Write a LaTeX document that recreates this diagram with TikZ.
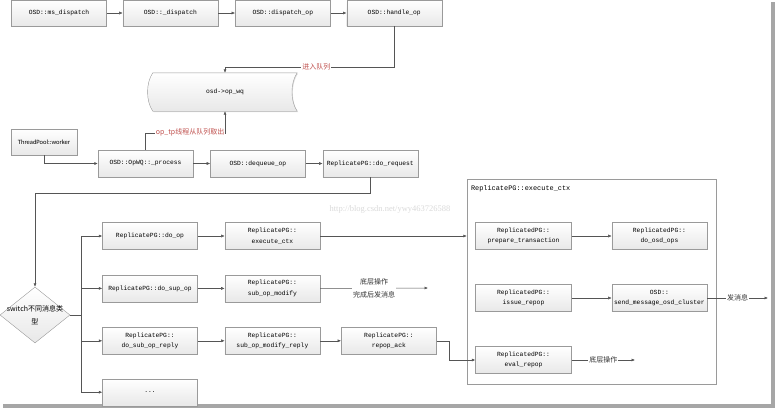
\documentclass[tikz,border=0pt]{standalone}
\usepackage{fontspec}
\setmonofont{Liberation Mono}
\newfontfamily\cjk{Noto Sans CJK SC}
\newfontfamily\wkfont{Carlito}
\newfontfamily\wmfont{Liberation Serif}
\usetikzlibrary{shapes.geometric,shadows,arrows.meta,positioning,calc}
\definecolor{linegray}{HTML}{555555}
\definecolor{boxgray}{HTML}{9A9A9A}
\definecolor{lblred}{HTML}{C0504D}
\newcommand\boxfont{\ttfamily\fontsize{6.3}{10.5}\selectfont}
\newcommand\lblfont{\cjk\fontsize{7}{12.5}\selectfont}
\tikzset{
    funcbox/.style={
        rectangle,                 % caja simple
        draw=boxgray,              % borde gris fino
        top color=white,           % degradado claro de arriba a abajo
        bottom color=gray!18,
        minimum width=95pt,        % ancho comun de todas las cajas
        minimum height=27pt,
        inner sep=1pt,
        align=center,
        font=\boxfont,
        drop shadow={shadow xshift=0.8pt,shadow yshift=-0.8pt,opacity=0.25}
    },
    wire/.style={
        draw=linegray,             % lineas de conexion
        line width=0.5pt
    },
    flow/.style={
        wire,
        -{Latex[length=3.5pt,width=3pt]}
    },
    redlabel/.style={
        fill=white, text=lblred, font=\lblfont, inner sep=1pt
    },
    notelabel/.style={
        fill=white, text=black!80, font=\lblfont, inner sep=1pt, align=center
    }
}
\begin{document}
\begin{tikzpicture}[x=1pt, y=-1pt]
\useasboundingbox (0,0) rectangle (775,410);
% sombra del marco
\fill[gray!70] (771,2) rectangle (774.5,407.5);
\fill[gray!70] (3,404) rectangle (774.5,407.5);

% fila superior
\node[funcbox, minimum height=26pt] (msd) at (59,13) {OSD::ms\_dispatch};
\node[funcbox, minimum height=26pt, right=16pt of msd] (dsp) {OSD::\_dispatch};
\node[funcbox, minimum height=26pt, right=17pt of dsp] (dop) {OSD::dispatch\_op};
\node[funcbox, minimum height=26pt, right=16pt of dop] (hop) {OSD::handle\_op};
\draw[flow] (msd) -- (dsp);
\draw[flow] (dsp) -- (dop);
\draw[flow] (dop) -- (hop);

% cola
\node[minimum width=144pt, minimum height=38pt, inner sep=0pt, font=\boxfont] (wq) at (225,92) {};
\path[draw=boxgray, top color=white, bottom color=gray!18,
      drop shadow={shadow xshift=0.8pt,shadow yshift=-0.8pt,opacity=0.25}]
  (wq.north west) .. controls +(-7pt,-10pt) and +(-7pt,10pt) .. (wq.south west)
  -- (wq.south east) .. controls +(-7pt,10pt) and +(-7pt,-10pt) .. (wq.north east) -- cycle;
\node[font=\boxfont] at (wq.center) {osd->op\_wq};
\draw[flow] (hop.south) -- ++(0,41) -| node[redlabel, pos=0.23] {进入队列} (wq.north);

% hilo de trabajo
\node[funcbox, font=\wkfont\fontsize{6.5}{8}\selectfont, minimum width=66pt, minimum height=26pt] (wrk) at (44,142) {ThreadPool::worker};
\node[funcbox] (proc) at (145.5,163.5) {OSD::OpWQ::\_process};
\node[funcbox, right=17pt of proc] (deq) {OSD::dequeue\_op};
\node[funcbox, right=17pt of deq] (req) {ReplicatePG::do\_request};
\draw[flow] (wrk.south) |- (proc.west);
\draw[flow] (proc) -- (deq);
\draw[flow] (deq) -- (req);
\draw[flow] (proc.north) -- ++(0,-17) -| node[redlabel, pos=0.28] {op\_tp线程从队列取出} (wq.south);

\node[font=\wmfont\fontsize{8.5}{10}\selectfont, text=gray!30] (wm) at (390,209) {http://blog.csdn.net/ywy463726588};

% switch
\node[diamond, draw=boxgray, top color=white, bottom color=gray!18, minimum width=70pt, minimum height=56pt, inner sep=0pt,
      label={[font=\lblfont, align=center]center:{switch不同消息类\\型}}] (sw) at (35,315) {};
\draw[flow] (req.south) -- ++(0,16) -| (sw.north);

% ramas
\node[funcbox] (op) at (150,236) {ReplicatePG::do\_op};
\node[funcbox, below=25pt of op] (sup) {ReplicatePG::do\_sup\_op};
\node[funcbox, below=25pt of sup] (rpl) {ReplicatePG::\\do\_sub\_op\_reply};
\node[funcbox, below=24pt of rpl] (etc) {...};
\node[funcbox, right=27pt of op] (ctx) {ReplicatePG::\\execute\_ctx};
\node[funcbox, right=27pt of sup] (mod) {ReplicatePG::\\sub\_op\_modify};
\node[funcbox, right=27pt of rpl] (mrp) {ReplicatePG::\\sub\_op\_modify\_reply};
\node[funcbox, right=21pt of mrp] (ack) {ReplicatePG::\\repop\_ack};

\coordinate (tk) at (81,315);
\draw[wire] (sw.east) -- (tk);
\draw[wire] (tk |- op.west) -- (tk |- etc.west);
\foreach \n in {op,sup,rpl,etc}
  \draw[flow] (tk |- \n.west) -- (\n.west);
\draw[flow] (op) -- (ctx);
\draw[flow] (sup) -- (mod);
\draw[flow] (rpl) -- (mrp);
\draw[flow] (mrp) -- (ack);

% execute_ctx
\node[draw=boxgray, fill=white, minimum width=249pt, minimum height=205pt] (ectx) at (591.5,281.5) {};
\node[anchor=north west, font=\ttfamily\fontsize{6.9}{8}\selectfont, inner sep=0pt] (ectxt) at ($(ectx.north west)+(4pt,-6pt)$) {ReplicatePG::execute\_ctx};
\node[funcbox, minimum width=96pt] (prep) at (523.5,236) {ReplicatedPG::\\prepare\_transaction};
\node[funcbox, right=40pt of prep] (dos) {ReplicatedPG::\\do\_osd\_ops};
\node[funcbox, minimum width=96pt] (iss) at (523.5,298) {ReplicatedPG::\\issue\_repop};
\node[funcbox, right=40pt of iss] (snd) {OSD::\\send\_message\_osd\_cluster};
\node[funcbox, minimum width=96pt] (evr) at (523.5,360) {ReplicatedPG::\\eval\_repop};
\draw[flow] (prep) -- (dos);
\draw[flow] (iss) -- (snd);

\draw[flow] (ctx.east) -- (ctx.east -| ectx.west);
\coordinate (modend) at (428,288);
\draw[flow] (mod.east) -- node[notelabel] {底层操作\\完成后发消息} (modend);
\draw[flow] (ack.east) -- ++(13,0) |- (evr.west);
\coordinate (sndend) at (768,298);
\draw[flow] (snd.east) -- node[notelabel] {发消息} (sndend);
\coordinate (evrend) at (635,360);
\draw[flow] (evr.east) -- node[notelabel] {底层操作} (evrend);
\end{tikzpicture}
\end{document}
